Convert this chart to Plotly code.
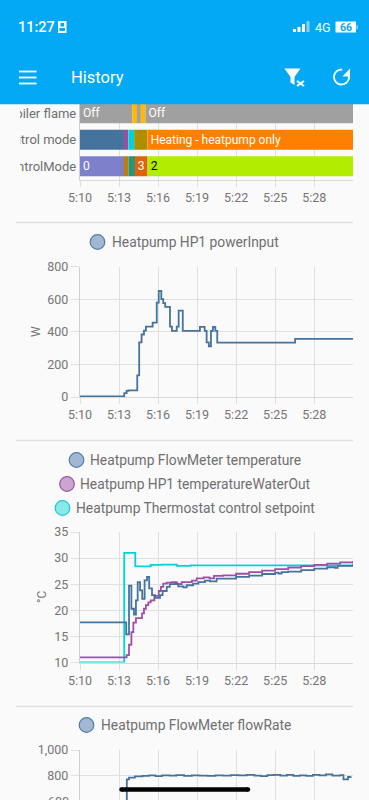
import math
import pandas as pd
import plotly.graph_objects as go

W, H = 369, 800
BG = "#fafafa"
GRID = "#e0e0e0"
TXT = "#757575"
FONT = "Roboto"
BLUE = "#44739e"
PURPLE = "#a24ea9"
CYAN = "#00d3d8"

# ---- timeline data (minutes after 5:10) ----
ROWS = ["Boiler flame", "Control mode", "ControlMode"]
FLAME_EDGES = [0, 4.02, 4.38, 4.69, 5.04, 21]
FLAME_COLORS = ["#a0a0a0", "#ffb900", "#a0a0a0", "#ffb900", "#a0a0a0"]
FLAME_TEXT = ["Off", "", "", "", "Off"]
MODE_EDGES = [0, 3.38, 3.72, 4.18, 5.2, 21]
MODE_COLORS = ["#44739e", "#984ea3", "#00d3d8", "#ac8f00", "#ff7f00"]
MODE_TEXT = ["", "", "", "", "Heating - heatpump only"]
CTRL_EDGES = [0, 3.38, 3.72, 4.23, 5.2, 21]
CTRL_COLORS = ["#7e80cb", "#bf7d0e", "#2a9478", "#e0620d", "#b2ec00"]
CTRL_TEXT = ["0", "", "", "3", "2"]
CTRL_TEXT_COLORS = ["white", "white", "white", "white", "black"]

# ---- power input ----
POWER_T = [0, 3.41, 3.59, 3.72, 4.41, 4.56, 4.74, 4.92, 5.08, 5.59, 5.9, 6.05, 6.26, 6.41, 6.56,
           6.92, 7.08, 7.44, 7.59, 7.9, 9.23, 9.59, 9.74, 9.9, 10.08, 10.23, 10.41, 10.56, 16.54, 21]
POWER_W = [3, 24, 37, 41, 133, 335, 383, 407, 432, 456, 579, 650, 600, 575, 552,
           432, 405, 432, 530, 405, 430, 405, 335, 311, 405, 430, 405, 333, 356, 356]

# ---- temperatures ----
SET_T = [0, 3.41, 4.26, 5.44, 6.3, 7.44, 8.5, 21]
SET_C = [10, 31, 28.4, 28.7, 28.75, 28.5, 28.6, 28.6]

OUT_T = [0, 3.5, 3.59, 3.77, 3.95, 4.1, 4.3, 4.77, 4.92, 5.08, 5.26, 5.44, 5.72, 6.05, 6.23, 6.41,
         6.67, 7.05, 7.44, 7.82, 8.33, 8.6, 8.97, 9.5, 9.95, 10.3, 11, 12, 13, 14, 15, 16, 17, 18, 19, 20, 21]
OUT_C = [11, 11, 11.4, 13.4, 15.8, 17.65, 18.5, 19.4, 20.3, 21, 21.5, 21.9, 22.75, 23.7, 24.5, 25.1,
         25.3, 25.4, 25, 25.4, 25.4, 25.7, 26.1, 26.3, 26.1, 26.6, 26.7, 27, 27.3, 27.6, 27.9, 28.2, 28.45, 28.7, 28.95, 29.2, 29.45]

FLOW_TEMP_T = [0, 3.56, 3.77, 3.95, 4.15, 4.3, 4.44, 4.62, 4.79, 4.97, 5.15, 5.33, 5.54, 5.77, 6.15, 6.36,
               6.67, 6.9, 7.3, 7.56, 7.95, 8.2, 8.7, 9.1, 9.6, 10.0, 10.5, 12, 13, 14, 15, 15.26, 15.5, 16, 17, 18, 19, 19.6, 19.8, 21]
FLOW_TEMP_C = [17.7, 15.4, 24.7, 20.3, 19.2, 21.9, 25.4, 23.8, 22.2, 25.75, 26.4, 24.2, 22.9, 22.4, 22.9, 23.7,
               24.5, 25, 25.1, 24.6, 24.4, 24.8, 25.1, 25.4, 25.7, 25.55, 26.07, 26.4, 26.65, 26.95, 27.2, 27.05, 27.3, 27.4, 27.7, 28, 28.25, 28.15, 28.5, 28.9]

# ---- flow rate ----
FLOW_T = [0, 3.6, 3.77, 4.23, 4.8, 5.3, 5.8, 6.3, 6.9, 7.4, 8.0, 8.6, 9.2, 9.8, 10.4, 11.0, 11.6, 12.2,
          12.8, 13.4, 13.9, 14.4, 14.9, 15.4, 15.9, 16.4, 16.9, 17.4, 17.9, 18.4, 18.9, 19.4, 20.0, 20.26, 20.6, 20.8]
FLOW_V = [0, 771, 785, 795, 798, 803, 797, 802, 800, 804, 798, 802, 800, 799, 803, 800, 805, 802,
          806, 800, 797, 804, 807, 800, 806, 798, 802, 798, 806, 802, 810, 800, 804, 772, 790, 796]

TICK_LABELS_FLOW = [800, 1000]


def when(minutes):
    base = pd.Timestamp("2024-01-01 05:10:00")
    return [(base + pd.to_timedelta(m, unit="m")).strftime("%Y-%m-%d %H:%M:%S") for m in minutes]


def fx(x):
    return x / W


def fy(y):
    return 1 - y / H


X_RANGE = ["2024-01-01 05:10:00", "2024-01-01 05:30:59"]
TF = dict(family=FONT, size=12.5, color=TXT)


def xaxis(anchor, labels=True):
    return dict(
        domain=[fx(80), fx(353)], anchor=anchor, type="date", range=X_RANGE, automargin=False,
        tick0="2024-01-01 05:10:00", dtick=180000, tickformat="%-H:%M",
        showgrid=True, gridcolor=GRID, gridwidth=1.3, showline=True, linecolor="#d9d9d9", linewidth=1.3,
        ticks="outside", ticklen=6, tickcolor=GRID, tickwidth=1.3,
        showticklabels=labels, tickfont=TF, zeroline=False, fixedrange=True,
    )


def yaxis(anchor, bottom, top, rng, dtick=None, fmt=None):
    d = dict(
        domain=[fy(bottom), fy(top)], anchor=anchor, range=rng, showgrid=True, gridcolor=GRID, gridwidth=1.3,
        showline=True, linecolor="#cfcfcf", linewidth=1.3, ticks="outside", ticklen=8, tickcolor=GRID,
        tickwidth=1.3, tickfont=TF, zeroline=False, fixedrange=True, automargin=False,
    )
    if dtick:
        d["dtick"] = dtick
    if fmt:
        d["tickformat"] = fmt
    return d


fig = go.Figure()


def segment_trace(row, edges, colors, text, text_colors=None):
    durations = [(b - a) * 60000 for a, b in zip(edges[:-1], edges[1:])]
    fig.add_trace(go.Bar(
        y=[row] * len(durations), x=durations, base=when(edges[:-1]), orientation="h",
        marker=dict(color=colors, line=dict(width=0)), width=0.76,
        text=text, textposition="inside", insidetextanchor="start", textangle=0,
        constraintext="none", cliponaxis=True,
        textfont=dict(family=FONT, size=12, color=text_colors or "white"),
        xaxis="x", yaxis="y", showlegend=False,
    ))


segment_trace(ROWS[0], FLAME_EDGES, FLAME_COLORS, FLAME_TEXT)
segment_trace(ROWS[1], MODE_EDGES, MODE_COLORS, MODE_TEXT)
segment_trace(ROWS[2], CTRL_EDGES, CTRL_COLORS, CTRL_TEXT, CTRL_TEXT_COLORS)


def step(t, v, color, xa, ya, width=1.8):
    fig.add_trace(go.Scatter(
        x=when(t), y=v, mode="lines", line=dict(color=color, width=width, shape="hv"),
        xaxis=xa, yaxis=ya, showlegend=False,
    ))


step(POWER_T, POWER_W, BLUE, "x2", "y2")
step(SET_T, SET_C, CYAN, "x3", "y3")
step(OUT_T, OUT_C, PURPLE, "x3", "y3")
step(FLOW_TEMP_T, FLOW_TEMP_C, BLUE, "x3", "y3")
step(FLOW_T, FLOW_V, BLUE, "x4", "y4")

shapes = []


def rect(x0, y0, x1, y1, color, line=None):
    shapes.append(dict(type="rect", xref="paper", yref="paper", layer="above",
                       x0=fx(x0), x1=fx(x1), y0=fy(y0), y1=fy(y1),
                       fillcolor=color, line=dict(width=0) if line is None else line))


def line(x0, y0, x1, y1, color, width):
    shapes.append(dict(type="line", xref="paper", yref="paper", layer="above",
                       x0=fx(x0), x1=fx(x1), y0=fy(y0), y1=fy(y1), line=dict(color=color, width=width)))


def circle(cx, cy, r, fill, edge, width=1.2):
    shapes.append(dict(type="circle", xref="paper", yref="paper", layer="above",
                       x0=fx(cx - r), x1=fx(cx + r), y0=fy(cy - r), y1=fy(cy + r),
                       fillcolor=fill, line=dict(color=edge, width=width)))


def path(points, fill=None, edge=None, width=0, close=True):
    d = "M " + " L ".join(f"{fx(x):.5f},{fy(y):.5f}" for x, y in points) + (" Z" if close else "")
    shapes.append(dict(type="path", xref="paper", yref="paper", layer="above", path=d,
                       fillcolor=fill if fill else "rgba(0,0,0,0)",
                       line=dict(color=edge or "rgba(0,0,0,0)", width=width)))


# clipped label edge, header bar, separators
rect(0, 100, 20, 180, BG)
rect(0, 0, W, 104.3, "#03a9f4")
for y in (222.5, 440.5, 706.5):
    line(16, y, 353, y, "#e0e0e0", 1.6)

# hamburger
for y in (71.5, 77.5, 83.5):
    line(19, y, 36.5, y, "white", 1.8)
# filter clear icon
path([(284.5, 68.5), (300.5, 68.5), (294.5, 77), (294.5, 85), (290.5, 82.5), (290.5, 77)], fill="white")
line(297, 81, 304, 86, "white", 2)
line(304, 81, 297, 86, "white", 2)
# refresh icon
arc = [(341.5 + 7.5 * math.cos(math.radians(a)), 77 + 7.5 * math.sin(math.radians(a))) for a in range(-25, 290, 15)]
path(arc, edge="white", width=1.8, close=False)
path([(350, 68.5), (350, 76.5), (342.5, 76.5)], fill="white")

# status bar glyphs
rect(58, 21, 66.5, 33, "white")
rect(60.5, 23, 64, 26.5, "#03a9f4")
rect(59.5, 28, 65, 31, "#03a9f4")
for i, (x, h, c) in enumerate([(293, 3, "white"), (297.5, 5, "white"), (302, 8, "white"), (306.5, 11, "#7fd3f9")]):
    rect(x, 32 - h, x + 3, 32, c)
rect(335.5, 21.5, 356, 32.5, "white")
rect(356.5, 25, 358, 29, "#7fd3f9")
# home indicator
rect(121.5, 787.2, 248, 791.7, "black")
circle(121.5, 789.5, 2.25, "black", "black", 0)
circle(248, 789.5, 2.25, "black", "black", 0)

# legend circles
L_BLUE = ("#a2b8d0", "#4f7dab")
L_PURPLE = ("#c9a5d0", "#9e52a8")
L_CYAN = ("#8be8ea", "#12cdd3")
circle(97.5, 242, 7.3, *L_BLUE)
circle(76.5, 460, 7.3, *L_BLUE)
circle(67, 484, 7.3, *L_PURPLE)
circle(62.5, 508, 7.3, *L_CYAN)
circle(86.5, 725, 7.3, *L_BLUE)

ann = []


def text(x, y, s, size=13.8, color="#6f6f6f", anchor="left", angle=0, weight=None):
    f = dict(family=FONT, size=size, color=color)
    if weight:
        f["weight"] = weight
    ann.append(dict(xref="paper", yref="paper", x=fx(x), y=fy(y), text=s, showarrow=False,
                    xanchor=anchor, yanchor="middle", font=f, textangle=angle))


text(110, 242, "Heatpump HP1 powerInput")
text(88, 460, "Heatpump FlowMeter temperature")
text(78, 484, "Heatpump HP1 temperatureWaterOut")
text(74, 508, "Heatpump Thermostat control setpoint")
text(99, 725, "Heatpump FlowMeter flowRate")
text(36, 332, "W", size=12, color=TXT, anchor="center", angle=-90)
text(42, 597, "°C", size=12, color=TXT, anchor="center", angle=-90)
text(71, 801, "600", size=12.5, color=TXT, anchor="right")

text(15.5, 27.5, "11:27", size=14.5, color="white", weight=500)
text(69, 77.5, "History", size=16.5, color="white")
text(313, 27.5, "4G", size=12.5, color="white")
text(345.5, 27.5, "66", size=10.5, color="#03a9f4", anchor="center", weight=700)

fig.update_layout(
    width=W, height=H, autosize=False, margin=dict(l=0, r=0, t=0, b=0, autoexpand=False),
    paper_bgcolor=BG, plot_bgcolor=BG, barmode="overlay", showlegend=False,
    shapes=shapes, annotations=ann, font=dict(family=FONT, color=TXT),
    xaxis=xaxis("y"),
    yaxis=dict(yaxis("x", 179.5, 100, None), type="category", categoryorder="array",
               categoryarray=ROWS[::-1], range=[-0.5, 2.5], showgrid=False, ticks="",
               tickfont=dict(family=FONT, size=13, color="#6f6f6f")),
    xaxis2=xaxis("y2"),
    yaxis2=yaxis("x2", 397, 266.5, [0, 800], dtick=200),
    xaxis3=xaxis("y3"),
    yaxis3=yaxis("x3", 662.5, 532, [10, 35], dtick=5),
    xaxis4=xaxis("y4", labels=False),
    yaxis4=yaxis("x4", 800, 750, [611, 1000], fmt=",d"),
)
fig.layout.yaxis4.tickvals = TICK_LABELS_FLOW

fig.write_html("out.html", config=dict(displayModeBar=False),
               post_script="document.body.style.margin='0';document.body.style.overflow='hidden';document.body.style.background='#fafafa';")
